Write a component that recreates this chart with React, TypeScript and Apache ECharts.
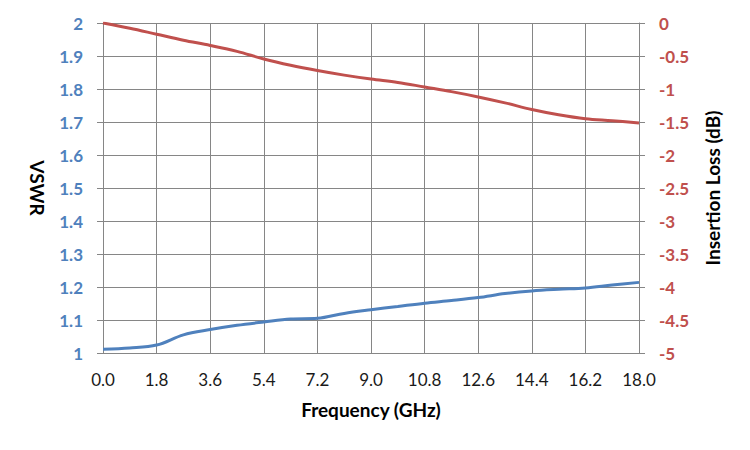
import React, { useEffect, useRef } from "react";
import * as echarts from "echarts";

const frequency = [0, 0.9, 1.8, 2.7, 3.6, 4.5, 5.4, 6.3, 7.2, 8.1, 9.0, 9.9, 10.8, 11.7, 12.6, 13.5, 14.4, 15.3, 16.2, 17.1, 18.0];
const vswr = [1.011, 1.015, 1.024, 1.055, 1.071, 1.084, 1.094, 1.103, 1.105, 1.12, 1.131, 1.141, 1.151, 1.159, 1.168, 1.18, 1.188, 1.193, 1.197, 1.206, 1.214];
const insertionLoss = [0, -0.08, -0.17, -0.26, -0.34, -0.43, -0.545, -0.64, -0.72, -0.79, -0.85, -0.9, -0.97, -1.04, -1.12, -1.21, -1.31, -1.39, -1.45, -1.48, -1.515];

const BLUE = "#4F81BD";
const RED = "#C0504D";
const GRID = "#868686";
const FONT = "Lato";

export default function App() {
  const ref = useRef<HTMLDivElement>(null);
  useEffect(() => {
    if (!ref.current) return;
    const chart = echarts.init(ref.current, undefined, { renderer: "svg" });
    const nameStyle = { fontFamily: FONT, fontSize: 19, fontWeight: "bold" as const, color: "#000" };
    chart.setOption({
      animation: false,
      backgroundColor: "#fff",
      grid: { left: 103, right: 111, top: 23, bottom: 97 },
      xAxis: {
        type: "value",
        min: 0,
        max: 18,
        interval: 1.8,
        name: "Frequency (GHz)",
        nameLocation: "middle",
        nameGap: 47,
        nameTextStyle: nameStyle,
        axisLine: { show: true, lineStyle: { color: GRID, width: 1 } },
        axisTick: { show: true, length: 6, lineStyle: { color: GRID } },
        splitLine: { show: true, lineStyle: { color: GRID, width: 1 } },
        axisLabel: {
          margin: 18,
          fontFamily: FONT,
          fontSize: 17,
          color: "#1a1a1a",
          formatter: (v: number) => v.toFixed(1),
        },
      },
      yAxis: [
        {
          type: "value",
          min: 1,
          max: 2,
          interval: 0.1,
          position: "left",
          name: "VSWR",
          nameLocation: "middle",
          nameGap: 56,
          nameRotate: -90,
          nameTextStyle: nameStyle,
          axisLine: { show: true, lineStyle: { color: GRID, width: 1 } },
          axisTick: { show: true, length: 6, lineStyle: { color: GRID } },
          splitLine: { show: true, lineStyle: { color: GRID, width: 1 } },
          axisLabel: {
            margin: 20,
            fontFamily: FONT,
            fontSize: 17,
            fontWeight: "bold",
            color: BLUE,
            formatter: (v: number) => String(Math.round(v * 10) / 10),
          },
        },
        {
          type: "value",
          min: -5,
          max: 0,
          interval: 0.5,
          position: "right",
          name: "Insertion Loss (dB)",
          nameLocation: "middle",
          nameGap: 64,
          nameRotate: 90,
          nameTextStyle: nameStyle,
          axisLine: { show: true, lineStyle: { color: GRID, width: 1 } },
          axisTick: { show: true, length: 6, lineStyle: { color: GRID } },
          splitLine: { show: false },
          axisLabel: {
            margin: 20,
            fontFamily: FONT,
            fontSize: 17,
            fontWeight: "bold",
            color: RED,
            formatter: (v: number) => String(Math.round(v * 10) / 10),
          },
        },
      ],
      series: [
        {
          name: "VSWR",
          type: "line",
          yAxisIndex: 0,
          smooth: 0.35,
          showSymbol: false,
          lineStyle: { color: BLUE, width: 3 },
          itemStyle: { color: BLUE },
          data: frequency.map((f, i) => [f, vswr[i]]),
        },
        {
          name: "Insertion Loss",
          type: "line",
          yAxisIndex: 1,
          smooth: 0.35,
          showSymbol: false,
          lineStyle: { color: RED, width: 3 },
          itemStyle: { color: RED },
          data: frequency.map((f, i) => [f, insertionLoss[i]]),
        },
      ],
    });
    return () => chart.dispose();
  }, []);
  return (
    <div
      ref={ref}
      style={{ position: "fixed", left: 0, top: 0, width: 750, height: 450, background: "#fff" }}
    />
  );
}
